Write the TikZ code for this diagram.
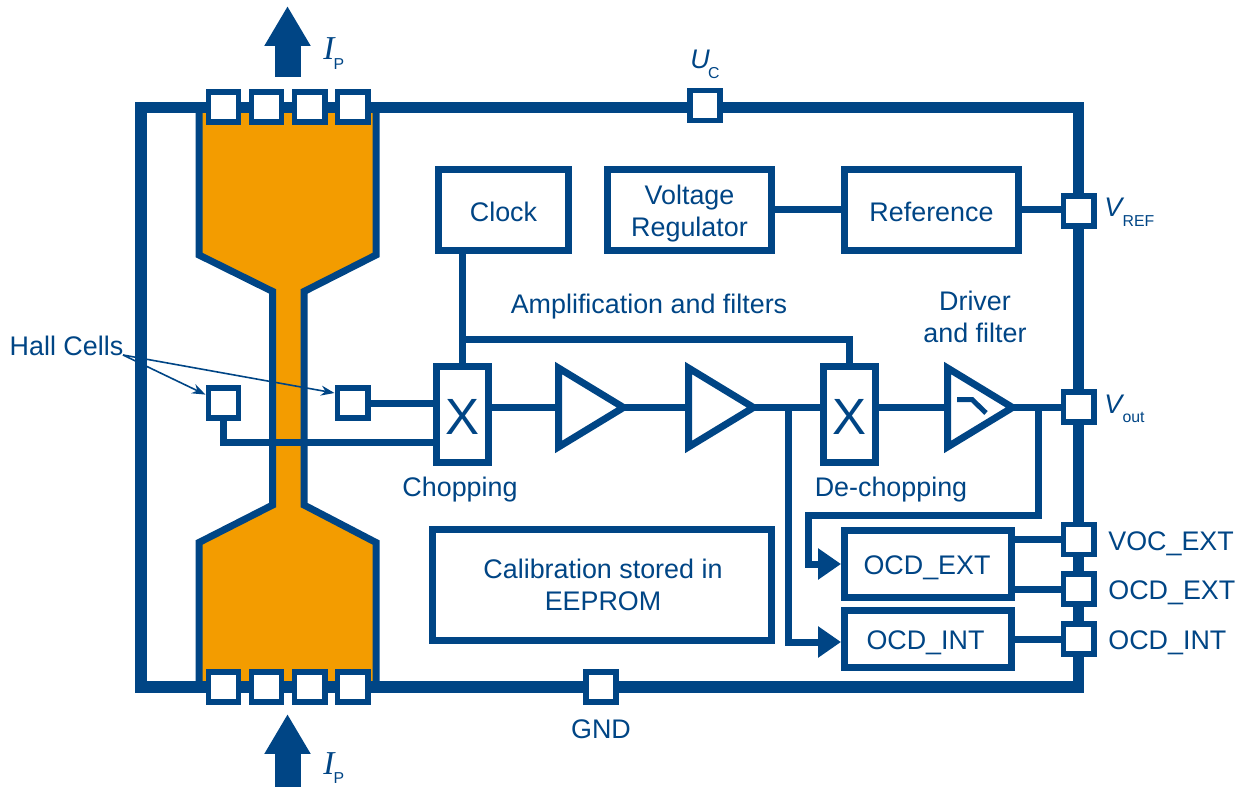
\documentclass[tikz,border=0pt]{standalone}
\usepackage{fontspec}
\setmainfont{Liberation Sans}
\newfontfamily\currentfont{Liberation Serif}
\usetikzlibrary{arrows.meta,shapes.geometric}
\definecolor{sensorblue}{HTML}{004585}
\definecolor{sensororange}{HTML}{F39C00}
\newcommand{\subfont}{\fontsize{9}{11}\selectfont}
\newcommand{\symsub}[2]{\textit{#1}\kern-1pt\raisebox{-5.6pt}{\subfont #2}}
\newcommand{\cursub}[1]{{\fontsize{19}{20}\selectfont\currentfont\itshape I}\kern-0.5pt\raisebox{-5.6pt}{\subfont #1}}
\tikzset{
	txt/.style={text=sensorblue,font=\fontsize{15.3}{18.2}\selectfont,align=center,inner sep=0pt},
	blk/.style={shape=rectangle,draw=sensorblue,line width=0.14cm,fill=white},
	pad/.style={shape=rectangle,draw=sensorblue,line width=0.115cm,fill=white,minimum width=0.605cm,minimum height=0.605cm,inner sep=0pt},
	amp/.style={shape=isosceles triangle,isosceles triangle stretches,shape border rotate=0,draw=sensorblue,line width=0.14cm,fill=white,minimum width=1.58cm,minimum height=1.3cm,inner sep=0pt,anchor=lower side},
	wire/.style={draw=sensorblue,line width=0.14cm},
	tipwire/.style={wire,shorten <=-0.16cm},
	feed/.style={wire,-{Triangle[length=0.46cm,width=0.6cm]}},
	pointer/.style={draw=sensorblue,line width=0.032cm,-{Stealth[length=0.27cm,width=0.2cm]}},
	big/.style={draw=sensorblue,line width=0.52cm,-{Triangle[length=0.8cm,width=0.87cm]}}
}

\begin{document}
\begin{tikzpicture}[x=0.02cm,y=-0.02cm]
	\useasboundingbox (0,0) rectangle (1244,787);

	% bus bar
	\draw[draw=sensorblue,line width=0.14cm,fill=sensororange] (199,107) -- (199,255) -- (272.7,291.5) -- (272.7,505) -- (199,542.5) -- (199,687)
		-- (376,687) -- (376,542.5) -- (304,505) -- (304,291.5) -- (376,255) -- (376,107) -- cycle;

	% package
	\node[shape=rectangle,draw=sensorblue,line width=0.23cm,minimum width=18.75cm,minimum height=11.6cm] (frame) at (609.75,397.25) {};

	\node[blk,minimum width=2.62cm,minimum height=1.62cm] (clock) at (503.5,210) {};
	\node[blk,minimum width=3.28cm,minimum height=1.62cm] (regulator) at (689.5,210) {};
	\node[blk,minimum width=3.5cm,minimum height=1.62cm] (reference) at (931.5,210) {};
	\node[blk,minimum width=1.05cm,minimum height=1.92cm] (chop) at (462.5,414.5) {};
	\node[blk,minimum width=1.05cm,minimum height=1.92cm] (dechop) at (849.5,414.5) {};
	\node[blk,minimum width=6.8cm,minimum height=2.22cm] (eeprom) at (602,585) {};
	\node[blk,minimum width=3.34cm,minimum height=1.34cm] (ocdext) at (928,564) {};
	\node[blk,minimum width=3.34cm,minimum height=1.14cm] (ocdint) at (928,639) {};

	\node[amp] (ampa) at (555,407.5) {};
	\node[amp] (ampb) at (685,407.5) {};
	\node[amp] (driver) at (944,407.5) {};

	\node[pad] (halla) at (223.5,403) {};
	\node[pad] (hallb) at (352.5,403) {};
	\node[pad] (pa) at (223.5,107) {};
	\node[pad] (pb) at (266.5,107) {};
	\node[pad] (pc) at (309.5,107) {};
	\node[pad] (pd) at (352.5,107) {};
	\node[pad] (pe) at (223.5,687) {};
	\node[pad] (pf) at (266.5,687) {};
	\node[pad] (pg) at (309.5,687) {};
	\node[pad] (ph) at (352.5,687) {};
	\node[pad] (uc) at (705,105.5) {};
	\node[pad] (gnd) at (601,687) {};
	\node[pad] (vref) at (1078.5,211) {};
	\node[pad] (vout) at (1078.5,407) {};
	\node[pad] (vocext) at (1078.5,539.5) {};
	\node[pad] (ocdextpin) at (1078.5,589) {};
	\node[pad] (ocdintpin) at (1078.5,639) {};

	\node[txt] (clocklabel) at (503.5,212) {Clock};
	\node[txt] (reglabel) at (689.5,214) {Voltage\\Regulator};
	\node[txt] (reflabel) at (931.5,212) {Reference};
	\node[txt,font=\fontsize{29}{30}\selectfont] (chopx) at (462.5,417) {X};
	\node[txt,font=\fontsize{29}{30}\selectfont] (dechopx) at (849.5,417) {X};
	\node[txt] (eepromlabel) at (603,585) {Calibration stored in\\EEPROM};
	\node[txt] (ocdextname) at (927,568) {OCD\_EXT};
	\node[txt] (ocdintname) at (925.5,642.5) {OCD\_INT};
	\node[txt] (hall) at (66.5,346) {Hall Cells};
	\node[txt] (amplabel) at (649,307) {Amplification and filters};
	\node[txt] (drvlabel) at (975,317) {Driver\\and filter};
	\node[txt] (choplabel) at (460,489.5) {Chopping};
	\node[txt] (dechoplabel) at (891,489.5) {De-chopping};
	\node[txt] (gndlabel) at (601,729) {GND};
	\node[txt,anchor=west] (vocextlabel) at (1108,543.5) {VOC\_EXT};
	\node[txt,anchor=west] (ocdextlabel) at (1108,592.5) {OCD\_EXT};
	\node[txt,anchor=west] (ocdintlabel) at (1108,642.5) {OCD\_INT};
	\node[txt,anchor=base west] (iptop) at (323,60) {\cursub{P}};
	\node[txt,anchor=base west] (ipbot) at (323,774) {\cursub{P}};
	\node[txt,anchor=base west] (uclabel) at (690,69) {\symsub{U}{C}};
	\node[txt,anchor=base west] (vreflabel) at (1104,217) {\symsub{V}{REF}};
	\node[txt,anchor=base west] (voutlabel) at (1104,413) {\symsub{V}{out}};

	\coordinate (hallend) at (123,355);
	\coordinate (topa) at (287.5,77);
	\coordinate (topb) at (287.5,6);
	\coordinate (bota) at (287.5,787);
	\coordinate (botb) at (287.5,714);
	\coordinate (clkbus) at (462.5,339);
	\coordinate (intsplit) at (788,407.5);
	\coordinate (intbend) at (788,642);
	\coordinate (extsplit) at (1038,407.5);
	\coordinate (extbenda) at (1038,515);
	\coordinate (extbendb) at (808,515);
	\coordinate (extbendc) at (808,564);

	\path[wire] (regulator) edge (reference);
	\path[wire] (reference) edge (reference -| vref.west);
	\path[wire] (chop.north |- clock.south) edge (chop.north);
	\draw[wire] (clkbus) -| (dechop.north);
	\path[wire] (hallb.east) edge (hallb.east -| chop.west);
	\draw[wire] (halla.south) |- (chop.west |- 0,442);
	\path[wire] (chop.east |- ampa.lower side) edge (ampa.lower side);
	\path[tipwire] (ampa.apex) edge (ampb.lower side);
	\path[tipwire] (ampb.apex) edge (dechop.west |- ampb.apex);
	\path[wire] (dechop.east |- driver.lower side) edge (driver.lower side);
	\path[tipwire] (driver.apex) edge (vout.west |- driver.apex);
	\draw[feed] (intsplit) -- (intbend) -- (ocdint.west |- intbend);
	\draw[feed] (extsplit) -- (extbenda) -- (extbendb) -- (extbendc) -- (ocdext.west);
	\path[wire] (ocdext.east |- vocext) edge (vocext.west);
	\path[wire] (ocdext.east |- ocdextpin) edge (ocdextpin.west);
	\path[wire] (ocdint.east |- ocdintpin) edge (ocdintpin.west);

	\draw[pointer] (hallend) -- (halla.155);
	\draw[pointer] (hallend) -- (hallb.151);
	\draw[big] (topa) -- (topb);
	\draw[big] (bota) -- (botb);

	% low pass sign in the driver
	\draw[draw=sensorblue,line width=0.1cm] (957,399.5) -- (972,399.5) -- (986,413);
\end{tikzpicture}
\end{document}
